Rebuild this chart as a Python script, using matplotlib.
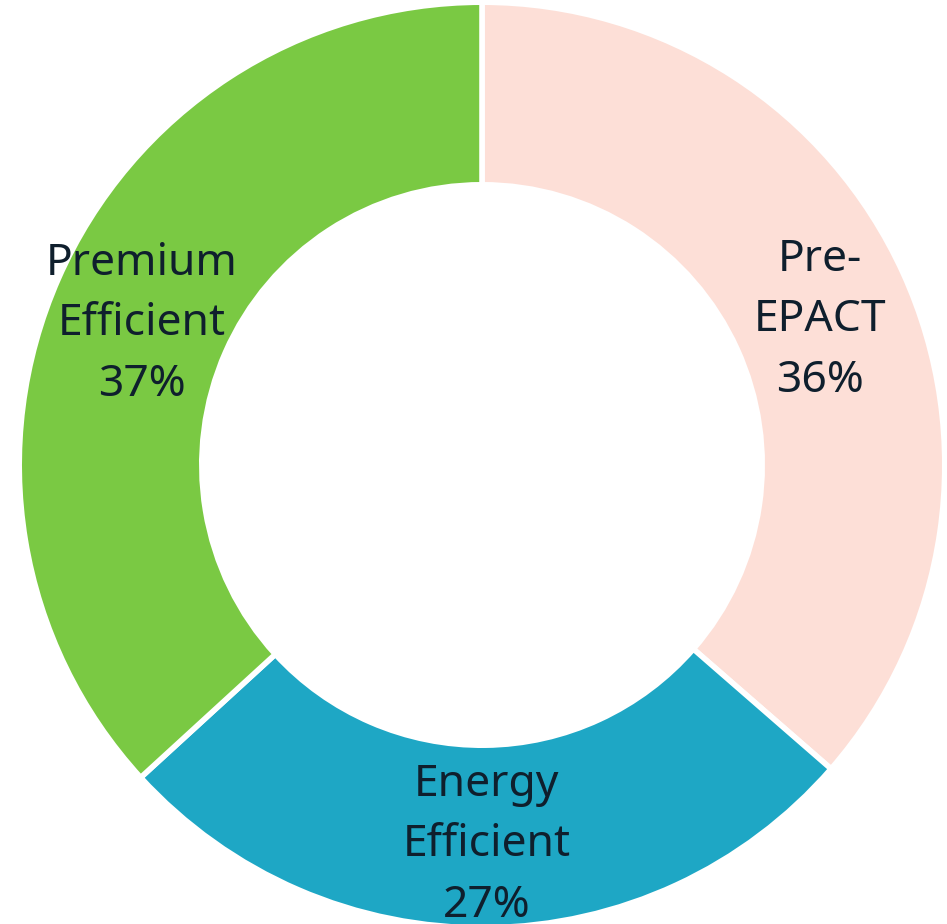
import matplotlib
matplotlib.use("Agg")
import matplotlib.pyplot as plt
import numpy as np

categories = ["Pre-\nEPACT", "Energy\nEfficient", "Premium\nEfficient"]
values = [36.4, 26.8, 36.8]
colors = ["#FDDFD7", "#1EA7C5", "#7AC943"]

W, H = 947, 924
fig = plt.figure(figsize=(W / 100, H / 100), dpi=100)
ax = fig.add_axes([0, 0, 1, 1])
cx, cy, R = 482, 465, 460
lw_pt = 4
lw_px = lw_pt * 100 / 72
Rd = (R + lw_px / 2) / R
inner = (283 - lw_px / 2) / R
width = Rd - inner
wedges, _ = ax.pie(values, colors=colors, startangle=90, counterclock=False,
                   radius=Rd, wedgeprops=dict(width=width, edgecolor="white", linewidth=lw_pt),
                   center=(0, 0), frame=False)
ax.set_xlim(-cx / R, (W - cx) / R)
ax.set_ylim(-(H - cy) / R, cy / R)
ax.set_aspect("auto")
ax.axis("off")

total = sum(values)
mid_r = (1 + 283 / R) / 2
dy = -9 / R
for w, cat, v in zip(wedges, categories, values):
    ang = np.deg2rad((w.theta1 + w.theta2) / 2)
    x, y = mid_r * np.cos(ang), mid_r * np.sin(ang) + dy
    ax.text(x, y, f"{cat}\n{round(v / total * 100)}%", ha="center", va="center",
            fontsize=32, color="#0F1F2D", family=["Noto Sans", "DejaVu Sans"],
            linespacing=1.5)

fig.savefig("out.png", dpi=100)
